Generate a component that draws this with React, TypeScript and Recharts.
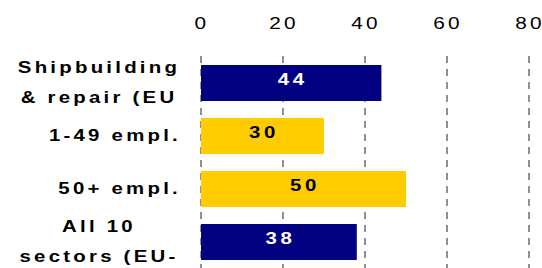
import React from "react";
import { BarChart, Bar, XAxis, YAxis, CartesianGrid, Cell } from "recharts";

const categories = ["Shipbuilding\n& repair (EU", "1-49 empl.", "50+ empl.", "All 10\nsectors (EU-"];
const values = [44, 30, 50, 38];
const xTicks = [0, 20, 40, 60, 80];
const boundaryTicks = [0, 1, 2, 3, 4];

const barColors = ["#000080", "#FFCC00", "#FFCC00", "#000080"];
const labelColors = ["#FFFFFF", "#000000", "#000000", "#FFFFFF"];

const data = categories.map((name, i) => ({ name, value: values[i] }));

const FONT = "'Liberation Sans', Arial, sans-serif";
const SX = 1.2;

const XTick = (props: any) => {
  const { x, y, payload } = props;
  return (
    <text
      transform={`translate(${x + 1},${y - 27.5}) scale(1.3,1)`}
      x={0}
      y={0}
      textAnchor="middle"
      fontFamily={FONT}
      fontSize={16}
      letterSpacing={2.5}
      fill="#000"
    >
      {payload.value}
    </text>
  );
};

const CatTick = (props: any) => {
  const { x, y, payload } = props;
  const lines = String(payload.value).split("\n");
  if (lines.length === 1) {
    return (
      <text
        transform={`translate(${x - 20},${y + 5.5}) scale(${SX},1)`}
        x={0}
        y={0}
        textAnchor="end"
        fontFamily={FONT}
        fontSize={17}
        fontWeight="bold"
        letterSpacing={2.7}
        fill="#000"
      >
        {lines[0]}
      </text>
    );
  }
  return (
    <g>
      {lines.map((l, i) => (
        <text
          key={i}
          transform={`translate(${x - 102},${y + (i === 0 ? -10 : 20)}) scale(${SX},1)`}
          x={0}
          y={0}
          textAnchor="middle"
          fontFamily={FONT}
          fontSize={17}
          fontWeight="bold"
          letterSpacing={2.7}
          fill="#000"
        >
          {l}
        </text>
      ))}
    </g>
  );
};

const BarLabel = (props: any) => {
  const { x, y, width, height, value, index } = props;
  const cx = Number(x) + Number(width) / 2;
  const cy = Number(y) + Number(height) / 2;
  return (
    <text
      transform={`translate(${cx + 1.5},${cy + 2}) scale(${SX},1)`}
      x={0}
      y={0}
      textAnchor="middle"
      fontFamily={FONT}
      fontSize={17}
      fontWeight="bold"
      letterSpacing={3}
      fill={labelColors[index] ?? "#000"}
    >
      {value}
    </text>
  );
};

export default function App() {
  return (
    <div style={{ position: "absolute", left: 0, top: 0, width: 542, height: 268, background: "#fff" }}>
      <BarChart
        width={542}
        height={268}
        data={data}
        layout="vertical"
        margin={{ top: 0, right: 13, bottom: 0, left: 0 }}
        barSize={36}
      >
        <CartesianGrid
          horizontal={false}
          vertical={true}
          stroke="#222"
          strokeDasharray="7 6"
          yAxisId="cat"
        />
        <XAxis
          type="number"
          orientation="top"
          domain={[0, 80]}
          ticks={xTicks}
          interval={0}
          height={56}
          axisLine={false}
          tickLine={false}
          tickSize={0}
          tickMargin={0}
          tick={<XTick />}
        />
        <YAxis
          yAxisId="bounds"
          type="number"
          domain={[0, 4]}
          ticks={boundaryTicks}
          interval={0}
          width={0}
          tick={false}
          tickSize={7}
          tickLine={{ stroke: "#808080", strokeWidth: 1.5 }}
          axisLine={{ stroke: "#808080", strokeWidth: 2 }}
        />
        <YAxis
          yAxisId="cat"
          type="category"
          dataKey="name"
          width={201}
          interval={0}
          axisLine={false}
          tickLine={false}
          tickSize={0}
          tickMargin={0}
          tick={<CatTick />}
        />
        <Bar dataKey="value" yAxisId="cat" isAnimationActive={false} label={<BarLabel />}>
          {data.map((d, i) => (
            <Cell key={d.name} fill={barColors[i]} />
          ))}
        </Bar>
      </BarChart>
    </div>
  );
}
